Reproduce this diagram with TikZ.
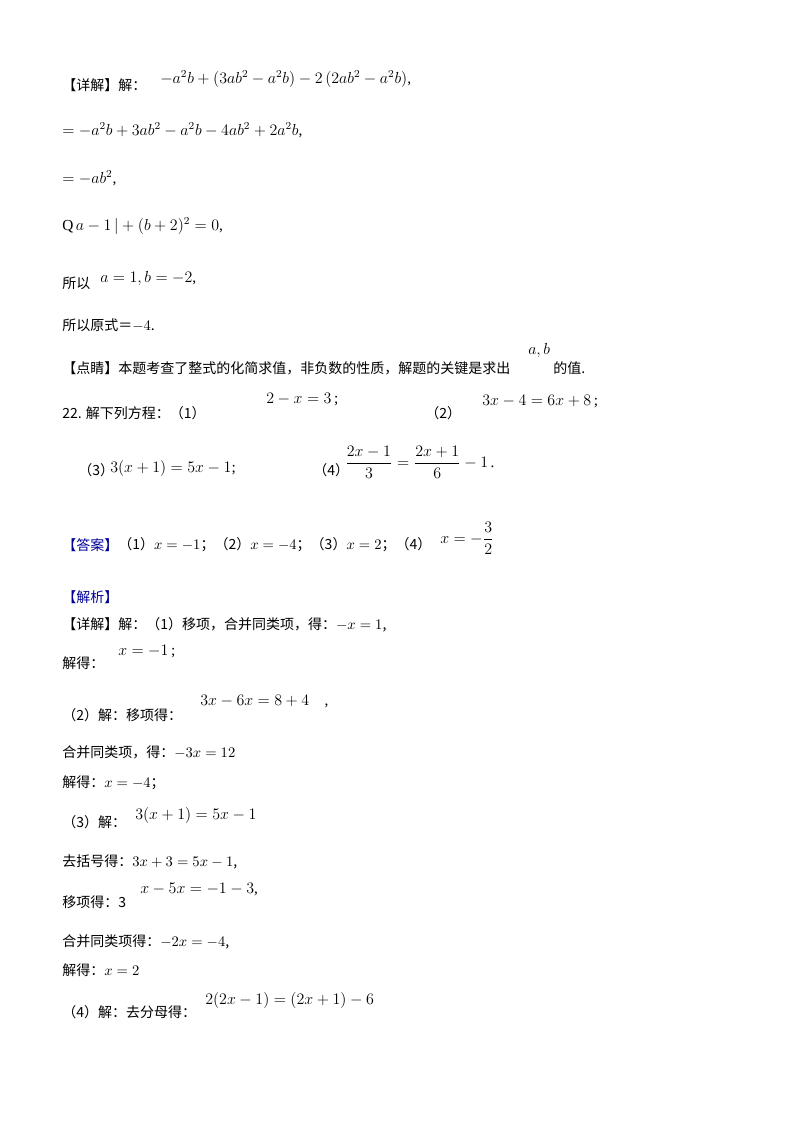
\documentclass[tikz,border=0pt]{standalone}
\usepackage{fontspec}
\setmainfont{Liberation Serif}
\newfontfamily\cjk{Noto Sans CJK SC}
\begin{document}
\begin{tikzpicture}[x=0.75pt,y=-0.75pt,
 zh/.style={anchor=west,inner sep=0,font=\cjk\fontsize{10.5}{12}\selectfont},
 mt/.style={anchor=west,inner sep=0,font=\fontsize{11.5}{14}\selectfont},
 bl/.style={zh,text=blue!60!black}]
\useasboundingbox[fill=white] (0,0) rectangle (800,1132);
\node[zh] (l1a) at (62,85) {【详解】解：};
\node[mt] (l1b) at (160,79) {$-a^2b+\left(3ab^2-a^2b\right)-2\left(2ab^2-a^2b\right)$,};
\node[mt] (l2) at (62,130) {$=-a^2b+3ab^2-a^2b-4ab^2+2a^2b$,};
\node[mt] (l3) at (62,178) {$=-ab^2$,};
\node[mt] (l4) at (62,226) {Q\,$a-1\,|+(b+2)^2=0$,};
\node[zh] (l5a) at (62,283) {所以};
\node[mt] (l5b) at (100,278) {$a=1,b=-2$,};
\node[zh] (l6) at (62,325) {所以原式＝$-4$.};
\node[zh] (l7a) at (62,368) {【点睛】本题考查了整式的化简求值，非负数的性质，解题的关键是求出};
\node[mt] (l7b) at (528,350) {$a,b$};
\node[zh] (l7c) at (553,368) {的值.};
\node[zh] (l8a) at (62,413) {22. 解下列方程：（1）};
\node[mt] (l8b) at (266,400) {$2 - x = 3$\,;};
\node[zh] (l8c) at (425,413) {（2）};
\node[mt] (l8d) at (482,402) {$3x - 4 = 6x + 8$\,;};
\node[zh] (l9a) at (78,470) {（3）};
\node[mt] (l9b) at (110,468) {$3(x+1)=5x-1$;};
\node[zh] (l9c) at (313,470) {（4）};
\node[mt] (l9d) at (345,462) {$\displaystyle\frac{2x-1}{3}=\frac{2x+1}{6}-1$\,.};
\node[bl] (l10a) at (62,545) {【答案】};
\node[zh] (l10b) at (118,545) {（1）$x=-1$；（2）$x=-4$；（3）$x=2$；（4）};
\node[mt] (l10c) at (440,538) {$x=-\displaystyle\frac{3}{2}$};
\node[bl] (l11) at (62,597) {【解析】};
\node[zh] (l12) at (62,625) {【详解】解：（1）移项，合并同类项，得：$-x=1$,};
\node[zh] (l13a) at (62,663) {解得：};
\node[mt] (l13b) at (118,652) {$x=-1$\,;};
\node[zh] (l14a) at (62,715) {（2）解：移项得：};
\node[mt] (l14b) at (200,702) {$3x-6x=8+4$\quad ,};
\node[zh] (l15) at (62,752) {合并同类项，得：$-3x=12$};
\node[zh] (l16) at (62,783) {解得：$x=-4$；};
\node[zh] (l17a) at (62,822) {（3）解：};
\node[mt] (l17b) at (135,815) {$3(x+1)=5x-1$};
\node[zh] (l18) at (62,862) {去括号得：$3x+3=5x-1$,};
\node[zh] (l19a) at (62,902) {移项得：3};
\node[mt] (l19b) at (140,890) {$x-5x=-1-3$,};
\node[zh] (l20) at (62,942) {合并同类项得：$-2x=-4$,};
\node[zh] (l21) at (62,970) {解得：$x=2$};
\node[zh] (l22a) at (62,1012) {（4）解：去分母得：};
\node[mt] (l22b) at (205,1000) {$2(2x-1)=(2x+1)-6$};
\end{tikzpicture}
\end{document}
